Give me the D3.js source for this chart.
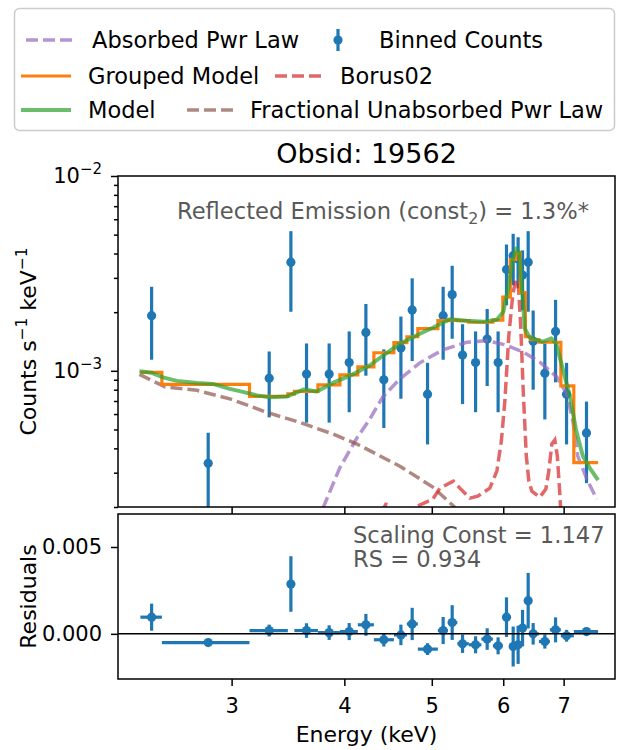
<!DOCTYPE html>
<html>
<head>
<meta charset="utf-8">
<script src="https://cdn.jsdelivr.net/npm/d3@7"></script>
<style>
  html, body { margin: 0; padding: 0; background: #fff; }
  svg text { font-family: "DejaVu Sans", sans-serif; }
</style>
</head>
<body>
<svg id="chart" width="622" height="750"></svg>
<script>
// ---- Binned spectrum: bin centre / edges (keV), rate (counts s^-1 keV^-1) ----
const binEnergy = [2.446, 2.826, 3.302, 3.490, 3.632, 3.848, 4.050, 4.226, 4.424, 4.621,
                   4.756, 4.946, 5.147, 5.267, 5.408, 5.591, 5.759, 5.922, 6.050, 6.154,
                   6.232, 6.303, 6.394, 6.476, 6.672, 6.857, 7.052, 7.420];
const binLo     = [2.377, 2.511, 3.140, 3.463, 3.521, 3.739, 3.955, 4.140, 4.313, 4.539,
                   4.692, 4.825, 5.078, 5.209, 5.337, 5.496, 5.674, 5.843, 5.994, 6.110,
                   6.196, 6.268, 6.348, 6.438, 6.571, 6.758, 6.950, 7.184];
const binHi     = [2.511, 3.140, 3.463, 3.521, 3.739, 3.955, 4.140, 4.313, 4.539, 4.692,
                   4.825, 5.078, 5.209, 5.337, 5.496, 5.674, 5.843, 5.994, 6.110, 6.196,
                   6.268, 6.348, 6.438, 6.571, 6.758, 6.950, 7.184, 7.643];
const binCounts = [1.92e-3, 3.35e-4, 9.17e-4, 3.61e-3, 9.62e-4, 9.62e-4, 1.103e-3, 1.574e-3, 8.99e-4, 1.309e-3,
                   2.053e-3, 7.59e-4, 1.92e-3, 2.461e-3, 1.205e-3, 1.103e-3, 1.456e-3, 1.103e-3, 3.31e-3, 3.9e-3,
                   3.75e-3, 3.1e-3, 3.61e-3, 1.42e-3, 9.73e-4, 1.593e-3, 7.59e-4, 4.80e-4];
const binCountErr = [7.8e-4, 1.46e-4, 3.4e-4, 1.6e-3, 4.2e-4, 4.2e-4, 4.9e-4, 6.3e-4, 3.9e-4, 5.9e-4,
                     9.3e-4, 3.4e-4, 7.8e-4, 1.0e-3, 5.3e-4, 4.9e-4, 6.2e-4, 4.9e-4, 1.14e-3, 1.15e-3,
                     1.1e-3, 1.05e-3, 1.6e-3, 6.2e-4, 4.1e-4, 7.2e-4, 3.4e-4, 2.15e-4];
const groupedModel = [9.82e-4, 8.52e-4, 7.39e-4, 7.61e-4, 7.84e-4, 8.47e-4, 9.54e-4, 1.049e-3, 1.238e-3, 1.394e-3,
                      1.496e-3, 1.645e-3, 1.809e-3, 1.820e-3, 1.809e-3, 1.776e-3, 1.776e-3, 1.820e-3, 2.389e-3, 3.727e-3,
                      4.001e-3, 2.520e-3, 1.496e-3, 1.444e-3, 1.402e-3, 1.402e-3, 8.37e-4, 3.38e-4];
const residuals = [0.00096, -0.00050, 0.00019, 0.00287, 0.00019, 0.00007, 0.00013, 0.00052, -0.00034, -0.00006,
                   0.00057, -0.00088, 0.00019, 0.00065, -0.00057, -0.00063, -0.00030, -0.00069, 0.00096, -0.00073,
                   -0.00063, 0.00033, 0.00191, 0.00000, -0.00044, 0.00023, -0.00011, 0.00013];

// ---- Full model ----
const modelEnergy = [2.371, 2.448, 2.518, 2.609, 2.746, 2.860, 2.987, 3.088, 3.200, 3.308,
                     3.455, 3.544, 3.608, 3.729, 3.885, 4.088, 4.269, 4.413, 4.609, 4.850,
                     5.013, 5.236, 5.468, 5.710, 5.903, 6.002, 6.078, 6.149, 6.204, 6.251,
                     6.292, 6.340, 6.421, 6.638, 6.783, 6.870, 6.993, 7.111, 7.229, 7.351,
                     7.483, 7.643];
const modelRate = [9.94e-4, 9.77e-4, 9.26e-4, 8.88e-4, 8.67e-4, 8.57e-4, 8.08e-4, 7.80e-4, 7.48e-4, 7.31e-4,
                   7.39e-4, 7.75e-4, 8.03e-4, 7.84e-4, 8.67e-4, 9.59e-4, 1.067e-3, 1.195e-3, 1.377e-3, 1.550e-3,
                   1.665e-3, 1.841e-3, 1.809e-3, 1.787e-3, 1.830e-3, 2.012e-3, 2.674e-3, 3.771e-3, 4.246e-3, 4.049e-3,
                   2.738e-3, 1.645e-3, 1.479e-3, 1.410e-3, 1.470e-3, 1.377e-3, 1.000e-3, 7.44e-4, 4.91e-4, 3.65e-4,
                   3.17e-4, 2.75e-4];

// ---- Absorbed power law ----
const absEnergy = [3.787, 3.955, 4.130, 4.269, 4.413, 4.609, 4.850, 5.143, 5.468, 5.754,
                   6.025, 6.324, 6.604, 6.878, 7.057, 7.166, 7.257, 7.426, 7.618];
const absRate = [1.97e-4, 3.19e-4, 4.52e-4, 5.66e-4, 7.35e-4, 9.09e-4, 1.099e-3, 1.282e-3, 1.402e-3, 1.427e-3,
                 1.361e-3, 1.245e-3, 1.099e-3, 9.31e-4, 7.61e-4, 5.53e-4, 3.65e-4, 2.78e-4, 2.19e-4];

// ---- Fractional unabsorbed power law ----
const unabsEnergy = [2.371, 2.531, 2.746, 2.987, 3.283, 3.571, 3.885, 4.130, 4.609, 5.013, 5.303];
const unabsRate = [9.59e-4, 8.27e-4, 7.94e-4, 7.18e-4, 6.12e-4, 5.43e-4, 4.74e-4, 4.21e-4, 3.24e-4, 2.53e-4, 1.995e-4];

// ---- Borus02 reflection ----
const borusEnergy = [4.391, 4.447, 4.493, 4.550, 4.668, 4.788, 5.013, 5.104, 5.282, 5.371,
                     5.510, 5.623, 5.798, 5.903, 5.971, 6.025, 6.086, 6.149, 6.196, 6.235,
                     6.275, 6.316, 6.364, 6.405, 6.454, 6.587, 6.689, 6.740, 6.792, 6.844,
                     6.888, 6.923, 6.950, 6.985];
const borusRate = [1.858e-4, 2.068e-4, 2.043e-4, 1.815e-4, 1.858e-4, 1.995e-4, 2.194e-4, 2.499e-4, 2.716e-4, 2.499e-4,
                   2.220e-4, 2.273e-4, 2.499e-4, 3.057e-4, 4.36e-4, 7.01e-4, 1.514e-3, 2.490e-3, 2.940e-3, 2.804e-3,
                   1.665e-3, 7.61e-4, 3.65e-4, 2.716e-4, 2.41e-4, 2.246e-4, 2.470e-4, 3.057e-4, 4.21e-4, 4.415e-4,
                   3.65e-4, 2.56e-4, 1.903e-4, 1.334e-4];

// ---- Axis ticks ----
const xTicks = [3, 4, 5, 6, 7];
const yMajorTicks = [1e-3, 1e-2];
const yMinorTicks = [2e-4, 3e-4, 4e-4, 5e-4, 6e-4, 7e-4, 8e-4, 9e-4,
                     2e-3, 3e-3, 4e-3, 5e-3, 6e-3, 7e-3, 8e-3, 9e-3];
const residTicks = [0, 0.005];

// ---- Layout ----
const L = 118, R = 615;
const mainTop = 176, mainBottom = 507;
const resTop = 514, resBottom = 679;
const FONT = 21;
const NOTE = 22.6;

const C = {
  blue: "#1f77b4", orange: "#ff7f0e", green: "#2ca02c",
  red: "#d62728", purple: "#9467bd", brown: "#8c564b", note: "#595959"
};

const svg = d3.select("#chart");

const x = d3.scaleLog().domain([2.245, 7.98]).range([L, R]);
const y = d3.scaleLog().domain([2e-4, 1e-2]).range([mainBottom, mainTop]);
const yr = d3.scaleLinear().domain([-0.0026, 0.0069]).range([resBottom, resTop]);

const defs = svg.append("defs");
defs.append("clipPath").attr("id", "clip-main").append("rect")
  .attr("x", L).attr("y", mainTop).attr("width", R - L).attr("height", mainBottom - mainTop);
defs.append("clipPath").attr("id", "clip-res").append("rect")
  .attr("x", L).attr("y", resTop).attr("width", R - L).attr("height", resBottom - resTop);

const idx = d3.range(binEnergy.length);
const line = d3.line().x(d => x(d[0])).y(d => y(d[1]));
const zip = (a, b) => a.map((v, i) => [v, b[i]]);

// ===== Spectrum panel =====
const gMain = svg.append("g").attr("clip-path", "url(#clip-main)");

gMain.append("g").selectAll("line").data(idx).join("line")
  .attr("x1", i => x(binEnergy[i])).attr("x2", i => x(binEnergy[i]))
  .attr("y1", i => y(Math.max(binCounts[i] - binCountErr[i], 1e-6)))
  .attr("y2", i => y(binCounts[i] + binCountErr[i]))
  .attr("stroke", C.blue).attr("stroke-width", 3.2);
gMain.append("g").selectAll("circle").data(idx).join("circle")
  .attr("cx", i => x(binEnergy[i])).attr("cy", i => y(binCounts[i]))
  .attr("r", 4.6).attr("fill", C.blue);

function dashed(e, r, color) {
  gMain.append("path").datum(zip(e, r)).attr("d", line)
    .attr("fill", "none").attr("stroke", color).attr("stroke-opacity", 0.7)
    .attr("stroke-width", 3.5).attr("stroke-dasharray", "12,5");
}
dashed(absEnergy, absRate, C.purple);
dashed(unabsEnergy, unabsRate, C.brown);
dashed(borusEnergy, borusRate, C.red);

// grouped model as a step curve over the bins
const steps = idx.flatMap(i => [[binLo[i], groupedModel[i]], [binHi[i], groupedModel[i]]]);
gMain.append("path").datum(steps).attr("d", line)
  .attr("fill", "none").attr("stroke", C.orange).attr("stroke-width", 3.2);

gMain.append("path").datum(zip(modelEnergy, modelRate)).attr("d", line)
  .attr("fill", "none").attr("stroke", C.green).attr("stroke-opacity", 0.7)
  .attr("stroke-width", 4).attr("stroke-linejoin", "round");

// ===== Residual panel =====
const gRes = svg.append("g").attr("clip-path", "url(#clip-res)");
gRes.append("g").selectAll("line").data(idx).join("line")
  .attr("x1", i => x(binLo[i])).attr("x2", i => x(binHi[i]))
  .attr("y1", i => yr(residuals[i])).attr("y2", i => yr(residuals[i]))
  .attr("stroke", C.blue).attr("stroke-width", 3.2);
gRes.append("g").selectAll("line").data(idx).join("line")
  .attr("x1", i => x(binEnergy[i])).attr("x2", i => x(binEnergy[i]))
  .attr("y1", i => yr(residuals[i] - binCountErr[i]))
  .attr("y2", i => yr(residuals[i] + binCountErr[i]))
  .attr("stroke", C.blue).attr("stroke-width", 3.2);
gRes.append("g").selectAll("circle").data(idx).join("circle")
  .attr("cx", i => x(binEnergy[i])).attr("cy", i => yr(residuals[i]))
  .attr("r", 4.6).attr("fill", C.blue);
gRes.append("line")
  .attr("x1", L).attr("x2", R).attr("y1", yr(0)).attr("y2", yr(0))
  .attr("stroke", "#000").attr("stroke-width", 1.5);

// ===== Axes =====
function styleAxis(g) {
  g.select(".domain").remove();
  g.selectAll(".tick line").attr("stroke", "#000").attr("stroke-width", 1.5);
  g.selectAll(".tick text").attr("font-size", FONT).attr("fill", "#000")
    .attr("font-family", "DejaVu Sans, sans-serif");
}

svg.append("g").attr("transform", `translate(0,${mainBottom})`)
  .call(d3.axisBottom(x).tickValues(xTicks).tickSize(7).tickFormat(() => ""))
  .call(styleAxis);
svg.append("g").attr("transform", `translate(0,${resBottom})`)
  .call(d3.axisBottom(x).tickValues(xTicks).tickSize(7).tickPadding(12).tickFormat(d3.format("d")))
  .call(styleAxis);

svg.append("g").attr("transform", `translate(${L},0)`)
  .call(d3.axisLeft(y).tickValues(yMinorTicks).tickSize(4).tickFormat(() => ""))
  .call(styleAxis);
svg.append("g").attr("transform", `translate(${L},0)`)
  .call(d3.axisLeft(y).tickValues(yMajorTicks).tickSize(7).tickPadding(9))
  .call(styleAxis)
  .selectAll(".tick text").each(function (d) {
    const t = d3.select(this);
    const e = Math.round(Math.log10(d));
    t.text(null);
    t.append("tspan").text("10");
    t.append("tspan").attr("font-size", 15).attr("dy", "-0.6em").text("\u2212" + Math.abs(e));
  });
svg.append("g").attr("transform", `translate(${L},0)`)
  .call(d3.axisLeft(yr).tickValues(residTicks).tickSize(7).tickPadding(9).tickFormat(d3.format(".3f")))
  .call(styleAxis);

// spines
[[mainTop, mainBottom], [resTop, resBottom]].forEach(([t, b]) => {
  svg.append("rect").attr("x", L).attr("y", t).attr("width", R - L).attr("height", b - t)
    .attr("fill", "none").attr("stroke", "#000").attr("stroke-width", 1.5);
});

// ===== Text =====
function richText(g, parts, size) {
  parts.forEach(p => {
    const s = g.append("tspan").text(p.t);
    if (p.sup) s.attr("font-size", size * 0.7).attr("dy", -size * 0.42);
    else if (p.sub) s.attr("font-size", size * 0.7).attr("dy", size * 0.22);
    if (p.back) s.attr("dy", p.back);
  });
}

svg.append("text").attr("x", (L + R) / 2).attr("y", 163).attr("text-anchor", "middle")
  .attr("font-size", 27).attr("fill", "#000").text("Obsid: 19562");

svg.append("text").attr("x", (L + R) / 2).attr("y", 742).attr("text-anchor", "middle")
  .attr("font-size", 22).attr("fill", "#000").text("Energy (keV)");

const ylab = svg.append("text")
  .attr("transform", `translate(36,${(mainTop + mainBottom) / 2}) rotate(-90)`)
  .attr("text-anchor", "middle").attr("font-size", 22).attr("fill", "#000");
richText(ylab, [
  { t: "Counts s" }, { t: "\u22121", sup: true },
  { t: " keV", back: 22 * 0.42 }, { t: "\u22121", sup: true }
], 22);

svg.append("text")
  .attr("transform", `translate(36,${(resTop + resBottom) / 2}) rotate(-90)`)
  .attr("text-anchor", "middle").attr("font-size", 22).attr("fill", "#000").text("Residuals");

const note = svg.append("text").attr("x", 177).attr("y", 219)
  .attr("font-size", NOTE).attr("fill", C.note);
richText(note, [
  { t: "Reflected Emission (const" }, { t: "2", sub: true },
  { t: ") = 1.3%*", back: -NOTE * 0.22 }
], NOTE);

svg.append("text").attr("x", 353).attr("y", 543).attr("font-size", NOTE).attr("fill", C.note)
  .text("Scaling Const = 1.147");
svg.append("text").attr("x", 353).attr("y", 567).attr("font-size", NOTE).attr("fill", C.note)
  .text("RS = 0.934");

// ===== Legend =====
const lg = svg.append("g");
lg.append("rect").attr("x", 14.5).attr("y", 8.5).attr("width", 600).attr("height", 122)
  .attr("rx", 5).attr("fill", "#fff").attr("stroke", "#cccccc").attr("stroke-width", 1.5);

const LEG = 22.5;
function legLine(x1, x2, yy, color, dash, opacity, w) {
  lg.append("line").attr("x1", x1).attr("x2", x2).attr("y1", yy).attr("y2", yy)
    .attr("stroke", color).attr("stroke-width", w).attr("stroke-opacity", opacity)
    .attr("stroke-dasharray", dash);
}
function legText(xx, yy, s) {
  lg.append("text").attr("x", xx).attr("y", yy).attr("font-size", LEG).attr("fill", "#000").text(s);
}
legLine(26, 74, 40, C.purple, "12,5", 0.7, 3.5);
legText(92, 48, "Absorbed Pwr Law");
lg.append("line").attr("x1", 338).attr("x2", 338).attr("y1", 29).attr("y2", 51)
  .attr("stroke", C.blue).attr("stroke-width", 3.2);
lg.append("circle").attr("cx", 338).attr("cy", 40).attr("r", 4.6).attr("fill", C.blue);
legText(379, 48, "Binned Counts");

legLine(21, 71, 76, C.orange, null, 1, 3.2);
legText(88, 84, "Grouped Model");
legLine(275, 322, 76, C.red, "12,5", 0.7, 3.5);
legText(340, 84, "Borus02");

legLine(21, 71, 110, C.green, null, 0.7, 4);
legText(88, 118, "Model");
legLine(187, 234, 110, C.brown, "12,5", 0.7, 3.5);
legText(250, 118, "Fractional Unabsorbed Pwr Law");
</script>
</body>
</html>
